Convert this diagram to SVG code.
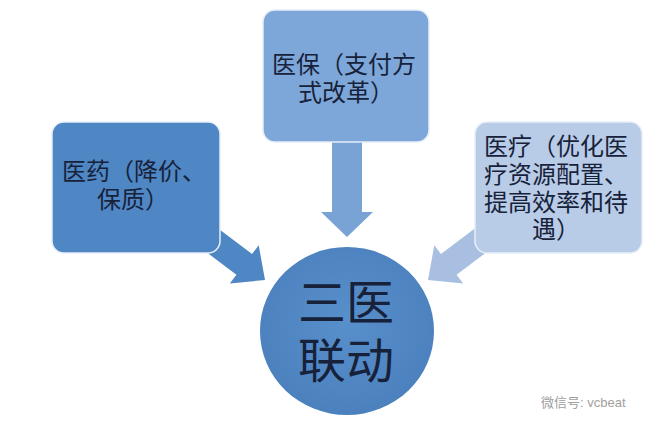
<svg xmlns="http://www.w3.org/2000/svg" width="669" height="431" viewBox="0 0 669 431">
<defs>
<style>
.box{stroke:#e6eef8;stroke-width:1.5}
.t{font-family:"Liberation Sans","Noto Sans CJK SC","Noto Sans CJK TC",sans-serif;fill:#17223a}
.s{font-size:24px}
.b{font-size:48px}
</style>
<polygon id="arr" points="0,0 -26,-24 -26,-13 -90,-13 -90,13 -26,13 -26,24"/>
<radialGradient id="cg" cx="0.5" cy="0.45" r="0.6">
<stop offset="0" stop-color="#5890cc"/>
<stop offset="1" stop-color="#4a7fbc"/>
</radialGradient>
</defs>
<rect width="669" height="431" fill="#ffffff"/>
<g id="connectors">
<use href="#arr" fill="#4f86c4" transform="translate(265,280) rotate(37)"/>
<use href="#arr" fill="#a8bfe2" transform="translate(428,280) scale(-1,1) rotate(37)"/>
<polygon fill="#7aa3d5" points="332,140 362,140 362,212 373,212 347,237 321,212 332,212"/>
</g>
<g id="left">
<rect class="box" x="52" y="122" width="168" height="131" rx="12" fill="#4f86c4"/>
<text class="t s" x="62" y="180">医药（降价、</text>
<text class="t s" x="97" y="208">保质）</text>
</g>
<g id="top">
<rect class="box" x="263" y="10" width="166" height="132" rx="12" fill="#7ea7d9"/>
<text class="t s" x="272" y="73">医保（支付方</text>
<text class="t s" x="298" y="101">式改革）</text>
</g>
<g id="right">
<rect class="box" x="475" y="122" width="167" height="131" rx="12" fill="#b8cce7"/>
<text class="t s" x="484" y="155">医疗（优化医</text>
<text class="t s" x="484" y="183">疗资源配置、</text>
<text class="t s" x="484" y="211">提高效率和待</text>
<text class="t s" x="532" y="238">遇）</text>
</g>
<g id="center">
<ellipse cx="347" cy="331" rx="87" ry="84" fill="url(#cg)"/>
<text class="t b" x="346" y="320" text-anchor="middle">三医</text>
<text class="t b" x="346" y="378" text-anchor="middle">联动</text>
</g>
<text x="541" y="407" font-family="Liberation Sans,Noto Sans CJK SC,sans-serif" font-size="13" fill="#a0a0a0">微信号: vcbeat</text>
</svg>
